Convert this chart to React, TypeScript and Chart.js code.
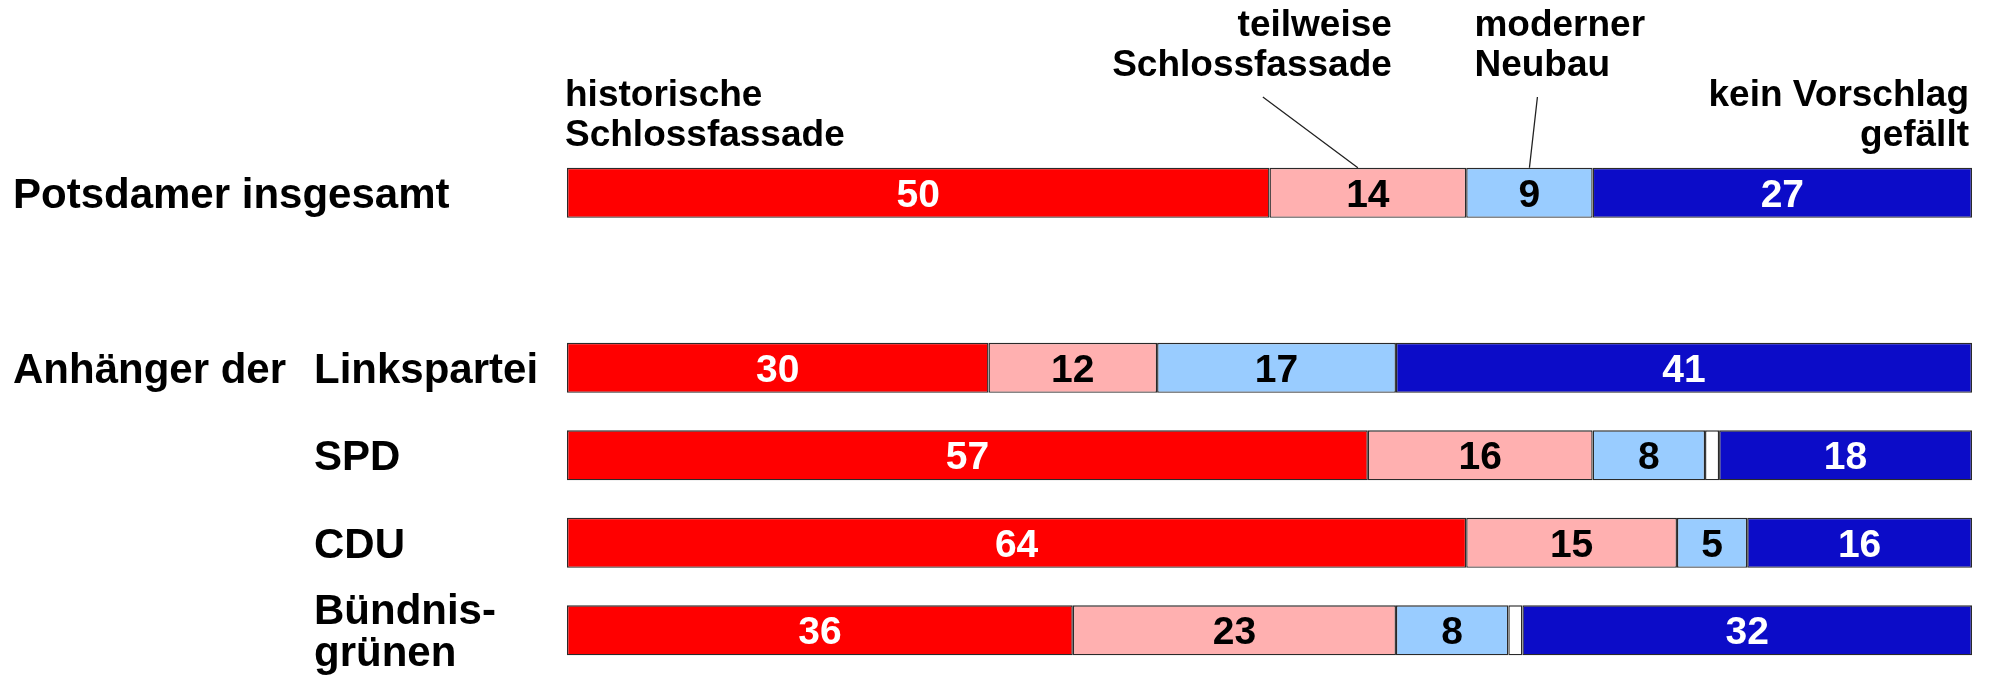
import React, { useEffect, useRef } from "react";
import { Chart, registerables } from "chart.js";

Chart.register(...registerables);

// ---- data ----
const categories: string[][] = [
  ["Potsdamer insgesamt"],
  [""],
  ["Linkspartei"],
  ["SPD"],
  ["CDU"],
  ["Bündnis-", "grünen"],
];
const groupLabel = "Anhänger der";

const historische = [50, null, 30, 57, 64, 36];
const teilweise = [14, null, 12, 16, 15, 23];
const moderner = [9, null, 17, 8, 5, 8];
const ohneAngabe = [0, null, 0, 1, 0, 1];
const keinVorschlag = [27, null, 41, 18, 16, 32];

const seriesLabels = [
  ["historische", "Schlossfassade"],
  ["teilweise", "Schlossfassade"],
  ["moderner", "Neubau"],
  [""],
  ["kein Vorschlag", "gefällt"],
];

const FONT = '"Liberation Sans", Arial, Helvetica, sans-serif';

const colors = ["#FF0000", "#FFB0B0", "#99CCFF", "#FFFFFF", "#0C0CC8"];
const textColors = ["#FFFFFF", "#000000", "#000000", "", "#FFFFFF"];

const labelPlugin = {
  id: "customLabels",
  afterDatasetsDraw(chart: any) {
    const ctx = chart.ctx as CanvasRenderingContext2D;
    const xScale = chart.scales.x;
    const yScale = chart.scales.y;
    const area = chart.chartArea;
    ctx.save();

    // values inside segments
    ctx.font = `bold 39px ${FONT}`;
    ctx.textAlign = "center";
    ctx.textBaseline = "alphabetic";
    chart.data.datasets.forEach((ds: any, di: number) => {
      if (!textColors[di]) return;
      const meta = chart.getDatasetMeta(di);
      meta.data.forEach((el: any, i: number) => {
        const v = ds.data[i];
        if (v == null || v === 0) return;
        const cx = (el.x + el.base) / 2;
        ctx.fillStyle = textColors[di];
        ctx.fillText(String(v), cx, el.y + 14);
      });
    });

    // row labels
    ctx.fillStyle = "#000";
    ctx.textAlign = "left";
    ctx.font = `bold 42px ${FONT}`;
    categories.forEach((lines, i) => {
      const y = yScale.getPixelForValue(i);
      const x = i === 0 ? 13 : 314;
      lines.forEach((line, li) => {
        if (!line) return;
        const by = y + 15 - (lines.length - 1) * 21 + li * 42;
        ctx.fillText(line, x, by);
      });
    });
    ctx.fillText(groupLabel, 13, yScale.getPixelForValue(2) + 15);

    // series annotations above the first bar
    ctx.font = `bold 37px ${FONT}`;
    const top = area.top + 19; // bar top of first row
    const cum = (di: number) => {
      let s = 0;
      for (let k = 0; k < di; k++) s += (chart.data.datasets[k].data[0] as number) || 0;
      return s;
    };
    // historische
    ctx.textAlign = "left";
    ctx.fillText(seriesLabels[0][0], area.left - 2, 106);
    ctx.fillText(seriesLabels[0][1], area.left - 2, 146);
    // teilweise
    const tX = xScale.getPixelForValue(cum(1) + historische[0]! * 0 + (teilweise[0] as number) / 2) - 10;
    ctx.textAlign = "right";
    ctx.fillText(seriesLabels[1][0], tX + 34, 36);
    ctx.fillText(seriesLabels[1][1], tX + 34, 76);
    // moderner
    const mX = xScale.getPixelForValue(cum(2) + (moderner[0] as number) / 2);
    ctx.textAlign = "left";
    ctx.fillText(seriesLabels[2][0], mX - 55, 36);
    ctx.fillText(seriesLabels[2][1], mX - 55, 76);
    // kein Vorschlag
    ctx.textAlign = "right";
    ctx.fillText(seriesLabels[4][0], area.right - 3, 106);
    ctx.fillText(seriesLabels[4][1], area.right - 3, 146);

    // leader lines
    const barTop = chart.getDatasetMeta(0).data[0].y - 25;
    ctx.strokeStyle = "#222";
    ctx.lineWidth = 1.3;
    ctx.beginPath();
    ctx.moveTo(tX - 95, 97);
    ctx.lineTo(tX, barTop);
    ctx.moveTo(mX + 8, 97);
    ctx.lineTo(mX, barTop);
    ctx.stroke();
    void top;

    ctx.restore();
  },
};

export default function App() {
  const ref = useRef<HTMLCanvasElement | null>(null);

  useEffect(() => {
    if (!ref.current) return;
    const series = [historische, teilweise, moderner, ohneAngabe, keinVorschlag];
    const chart = new Chart(ref.current, {
      type: "bar",
      data: {
        labels: categories as any,
        datasets: series.map((d, i) => ({
          label: seriesLabels[i].join(" "),
          data: d as any,
          backgroundColor: colors[i],
          borderColor: "#2a2a2a",
          borderWidth: 1.4,
          borderSkipped: false,
          barPercentage: 1,
          categoryPercentage: 0.572,
        })),
      },
      options: {
        indexAxis: "y",
        responsive: false,
        animation: false,
        devicePixelRatio: 1,
        layout: { padding: { left: 567, right: 18, top: 149, bottom: 3 } },
        plugins: {
          legend: { display: false },
          title: { display: false },
          tooltip: { enabled: false },
        },
        scales: {
          x: { type: "linear", stacked: true, min: 0, max: 100, display: false },
          y: { type: "category", stacked: true, display: false },
        },
      },
      plugins: [labelPlugin],
    });
    return () => chart.destroy();
  }, []);

  return (
    <div style={{ position: "fixed", left: 0, top: 0, width: 1990, height: 677, background: "#fff" }}>
      <canvas ref={ref} width={1990} height={677} style={{ width: 1990, height: 677, display: "block" }} />
    </div>
  );
}
